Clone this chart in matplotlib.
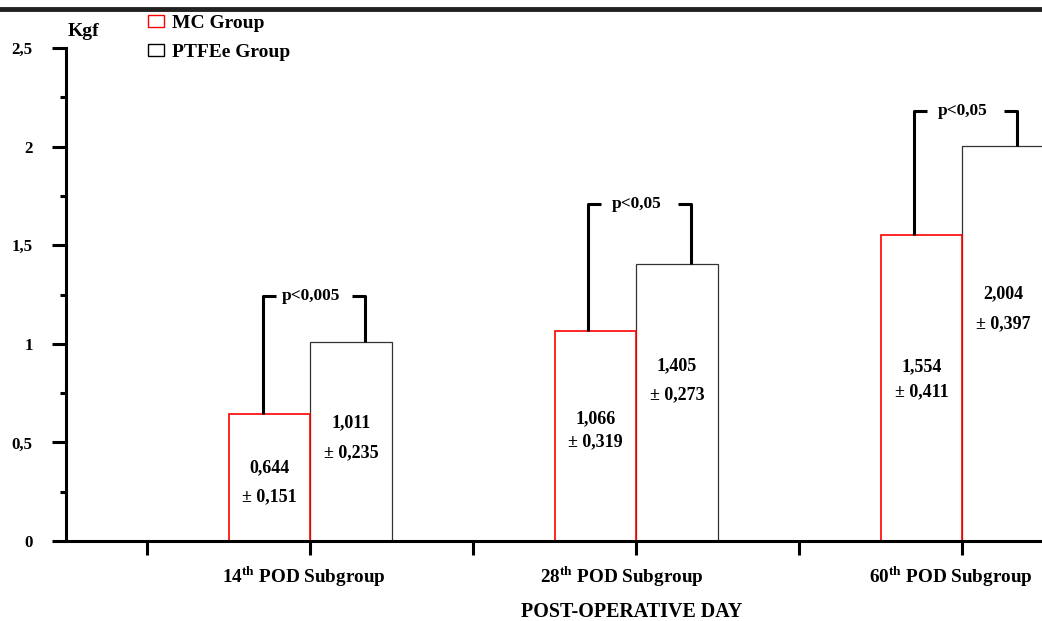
import matplotlib
matplotlib.use("Agg")
import matplotlib.pyplot as plt
from matplotlib.patches import Rectangle
from matplotlib.lines import Line2D

# data
subgroups = ["14", "28", "60"]
mc_mean = [0.644, 1.066, 1.554]
mc_sd = [0.151, 0.319, 0.411]
ptfe_mean = [1.011, 1.405, 2.004]
ptfe_sd = [0.235, 0.273, 0.397]
p_labels = ["p<0,005", "p<0,05", "p<0,05"]

# where the value labels sit (y, data units)
mc_lab_y = [(0.374, 0.222), (0.621, 0.505), (0.884, 0.758)]
ptfe_lab_y = [(0.601, 0.449), (0.889, 0.742), (1.253, 1.101)]
bracket_top = [1.24, 1.71, 2.18]
xlab_shift = [-7, -14, -11]  # px, tick labels sit a bit left of the ticks

plt.rcParams["font.family"] = "Liberation Serif"
plt.rcParams["font.weight"] = "bold"
plt.rcParams["mathtext.fontset"] = "custom"
plt.rcParams["mathtext.rm"] = "Liberation Serif"
plt.rcParams["mathtext.bf"] = "Liberation Serif:bold"

fig = plt.figure(figsize=(10.42, 6.21), dpi=100)
ax = fig.add_axes([66 / 1042, 1 - 541 / 621, 1 - 66 / 1042, (541 - 48) / 621])

x = list(range(len(subgroups)))
w = 0.25
ax.bar(x, mc_mean, width=-w, align="edge", facecolor="white", edgecolor="#ff0000", linewidth=1.2, zorder=2)
ax.bar(x, ptfe_mean, width=w, align="edge", facecolor="white", edgecolor="#333333", linewidth=0.9, zorder=1)

fs = 13
for i in x:
    cm = i - w / 2
    cp = i + w / 2
    ax.text(cm, mc_lab_y[i][0], f"{mc_mean[i]:.3f}".replace(".", ","), ha="center", va="center", fontsize=fs, fontweight="bold")
    ax.text(cm, mc_lab_y[i][1], "± " + f"{mc_sd[i]:.3f}".replace(".", ","), ha="center", va="center", fontsize=fs, fontweight="bold")
    ax.text(cp, ptfe_lab_y[i][0], f"{ptfe_mean[i]:.3f}".replace(".", ","), ha="center", va="center", fontsize=fs, fontweight="bold")
    ax.text(cp, ptfe_lab_y[i][1], "± " + f"{ptfe_sd[i]:.3f}".replace(".", ","), ha="center", va="center", fontsize=fs, fontweight="bold")

    # significance bracket
    xl = i - 0.147
    xr = i + 0.168
    top = bracket_top[i]
    ax.plot([xl, xl, xl + 0.04], [mc_mean[i], top, top], color="black", lw=2.2, solid_capstyle="butt", zorder=3)
    ax.plot([xr - 0.04, xr, xr], [top, top, ptfe_mean[i]], color="black", lw=2.2, solid_capstyle="butt", zorder=3)
    ax.text((xl + xr) / 2 - 0.01, top, p_labels[i], ha="center", va="center", fontsize=12.5, fontweight="bold",
            bbox=dict(facecolor="white", edgecolor="none", pad=1))

    # category label, a little left of its tick
    ax.annotate(f"{subgroups[i]}$^{{\\mathbf{{th}}}}$ POD Subgroup", xy=(i, 0), xycoords=("data", "axes fraction"),
                xytext=(xlab_shift[i] * 0.72, -36 * 0.72), textcoords="offset points",
                ha="center", va="center", fontsize=13.8, fontweight="bold", annotation_clip=False)

ax.set_xlim(-0.75, 2.245)
ax.set_ylim(0, 2.5)
ax.set_xticks(x)
ax.set_xticklabels([])
ax.set_xticks([-0.5, 0.5, 1.5], minor=True)
ax.set_yticks([0, 0.5, 1, 1.5, 2, 2.5])
ax.set_yticklabels(["0", "0,5", "1", "1,5", "2", "2,5"], fontsize=12.2, fontweight="bold")
ax.set_yticks([0.25, 0.75, 1.25, 1.75, 2.25], minor=True)
ax.tick_params(axis="x", which="both", direction="out", length=10, width=2.2, pad=6)
ax.tick_params(axis="y", which="major", direction="out", length=10, width=2.2, pad=14)
ax.tick_params(axis="y", which="minor", direction="out", length=4.5, width=2.2)
for s in ["top", "right"]:
    ax.spines[s].set_visible(False)
for s in ["left", "bottom"]:
    ax.spines[s].set_linewidth(2.2)
ax.spines["bottom"].set_zorder(4)

fig.text(83 / 1042, 1 - 31 / 621, "Kgf", ha="center", va="center", fontsize=14, fontweight="bold")
fig.text(632 / 1042, 1 - 612 / 621, "POST-OPERATIVE DAY", ha="center", va="center", fontsize=14.4, fontweight="bold")

handles = [Rectangle((0, 0), 1, 1, facecolor="white", edgecolor="#ff0000", lw=1.0),
           Rectangle((0, 0), 1, 1, facecolor="white", edgecolor="black", lw=1.0)]
fig.legend(handles, ["MC Group", "PTFEe Group"], loc="upper left", bbox_to_anchor=(148 / 1042, 1 - 15 / 621),
           frameon=False, prop=dict(family="Liberation Serif", weight="bold", size=14),
           handlelength=0.8, handleheight=0.55, handletextpad=0.45, labelspacing=0.6, borderpad=0, borderaxespad=0)

fig.add_artist(Line2D([0, 1], [1 - 8.5 / 621, 1 - 8.5 / 621], transform=fig.transFigure, color="#222222", lw=3.5))

fig.savefig("out.png", dpi=100)
